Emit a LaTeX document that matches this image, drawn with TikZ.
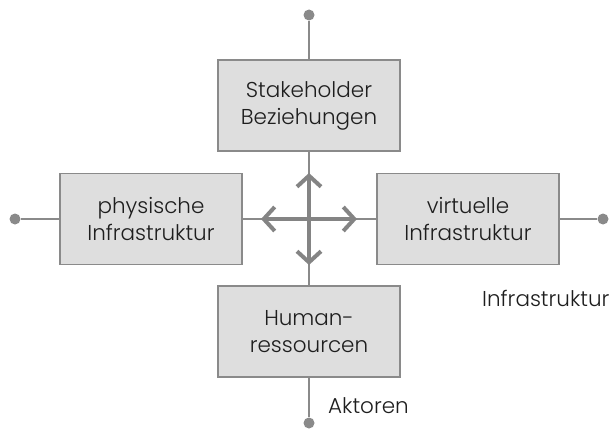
\documentclass[tikz,border=0pt]{standalone}
\usepackage{fontspec}
\setmainfont{Poppins}[UprightFont=* Light]
\usetikzlibrary{arrows.meta}
\definecolor{boxfill}{HTML}{DEDEDE}
\definecolor{boxline}{HTML}{8A8A8A}
\definecolor{wiregray}{HTML}{8A8A8A}
\definecolor{crossgray}{HTML}{848484}
\definecolor{ink}{HTML}{1E1E1E}
\begin{document}
\begin{tikzpicture}[x=1pt,y=-1pt,
  block/.style={draw=boxline, fill=boxfill, line width=1.5pt,
    minimum width=182pt, minimum height=91pt, inner sep=0pt,
    align=center, font=\fontsize{21.5}{27}\selectfont, text=ink},
  wire/.style={draw=wiregray, line width=1.6pt},
  term/.style={circle, fill=wiregray, inner sep=0pt, minimum size=11pt},
  tag/.style={font=\fontsize{21.5}{27}\selectfont, text=ink, anchor=base west, inner sep=0pt},
  flow/.style={draw=crossgray, line width=4pt,
    {Straight Barb[length=11pt,width=24pt]}-{Straight Barb[length=11pt,width=24pt]}}
]
\useasboundingbox (0,0) rectangle (612,428);

% terminals
\node[term] (tdot) at (309,15) {};
\node[term] (bdot) at (309,423) {};
\node[term] (ldot) at (15,219) {};
\node[term] (rdot) at (603,219) {};

% blocks
\node[block] (top) at (309,105.5) {Stakeholder\\Beziehungen};
\node[block] (bot) at (309,331.5) {Human-\\ressourcen};
\node[block] (lft) at (151,219) {physische\\Infrastruktur};
\node[block] (rgt) at (468,219) {virtuelle\\Infrastruktur};

% connecting wires
\draw[wire] (tdot) -- (top);
\draw[wire] (top) -- (bot);
\draw[wire] (bot) -- (bdot);
\draw[wire] (ldot) -- (lft);
\draw[wire] (lft) -- (rgt);
\draw[wire] (rgt) -- (rdot);

% central cross of arrows
\coordinate (cn) at (309,173);
\coordinate (cs) at (309,265);
\coordinate (cw) at (261,219);
\coordinate (ce) at (357,219);
\draw[flow] (cn) -- (cs);
\draw[flow] (cw) -- (ce);

% labels
\node[tag] (akt) at (328,413) {Aktoren};
\node[tag] (inf) at (482,306) {Infrastruktur};
\end{tikzpicture}
\end{document}
